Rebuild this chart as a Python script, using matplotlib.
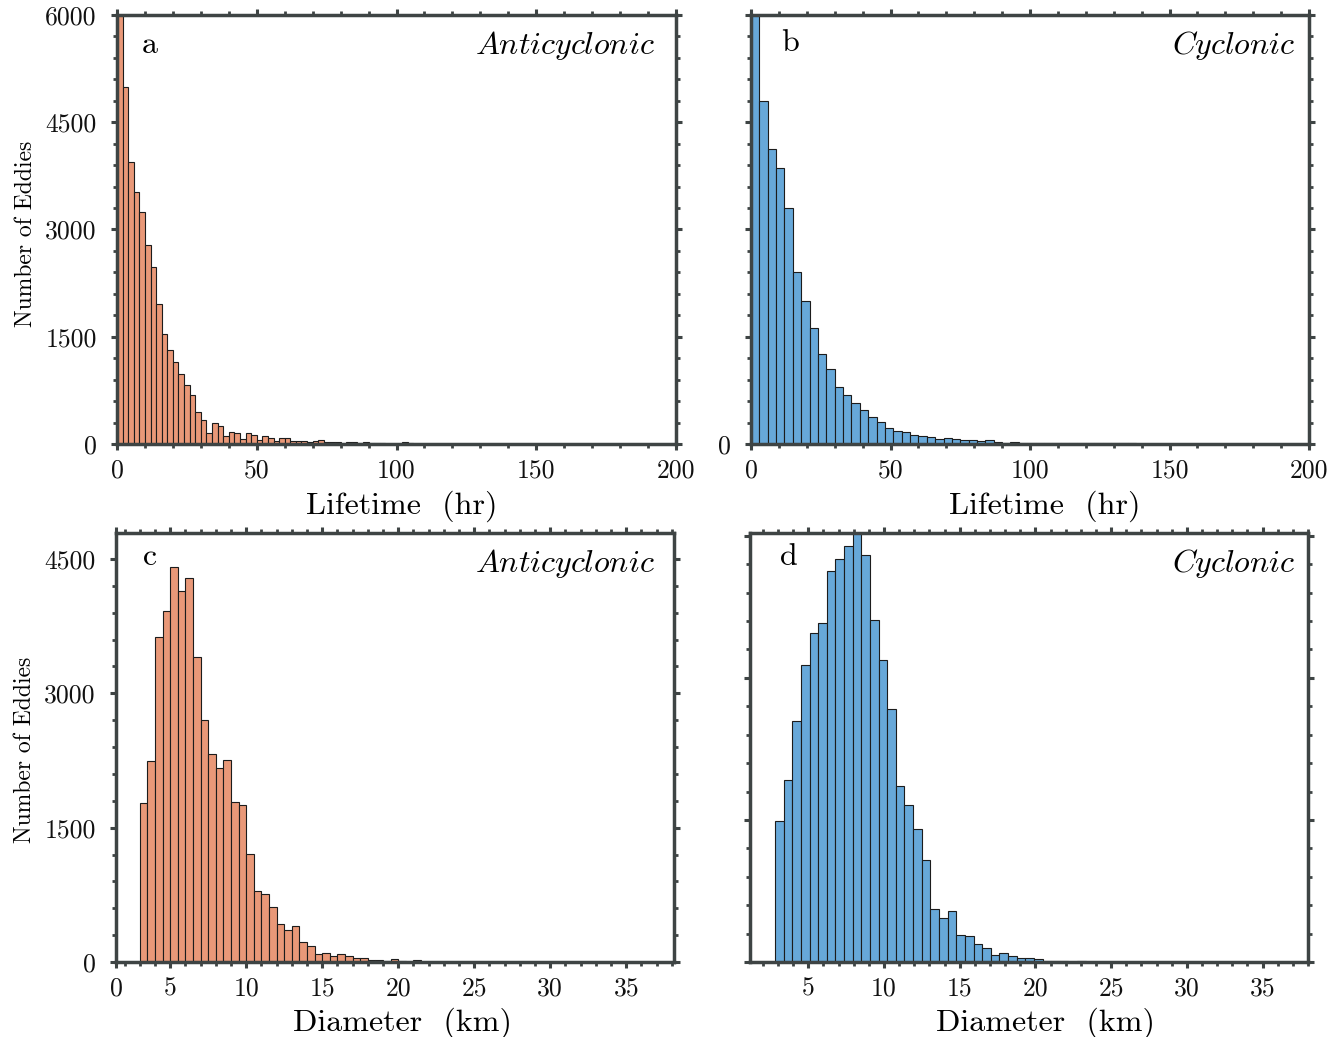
import numpy as np
import matplotlib
matplotlib.use("Agg")
import matplotlib.pyplot as plt
from matplotlib.ticker import MultipleLocator, FixedLocator, NullFormatter

plt.rcParams['font.family'] = 'cmr10'
plt.rcParams['mathtext.fontset'] = 'cm'
plt.rcParams['axes.unicode_minus'] = False

# ---------------- data ----------------
# (a) Anticyclonic lifetime, 2-hr bins starting at 0 hr
a_bin_start = 0.0
a_bin_width = 2.0
a_counts = [6800, 4990, 3950, 3520, 3240, 2790, 2470, 1960, 1540, 1315,
            1140, 980, 820, 680, 450, 340, 160, 300, 245, 115,
            165, 150, 75, 150, 130, 55, 112, 90, 35, 78,
            80, 42, 40, 35, 22, 45, 62, 24, 33, 22,
            6, 32, 22, 18, 22, 9, 9, 18, 5, 2,
            6, 28, 8, 6, 5, 4, 5, 4, 3, 4,
            3, 3, 2, 3, 2, 2, 3, 2, 2, 2,
            1, 2, 1, 2, 1, 1, 2, 1, 1, 1,
            1, 1, 1, 1, 1, 1, 1, 1, 1, 1,
            1, 1, 1, 1, 1, 1, 1, 1, 1, 1]

# (b) Cyclonic lifetime, 3-hr bins starting at 0 hr
b_bin_start = 0.0
b_bin_width = 3.0
b_counts = [6900, 4800, 4120, 3855, 3296, 2401, 1995, 1622, 1259, 1044,
            802, 685, 578, 471, 382, 308, 222, 185, 170, 128,
            112, 98, 63, 84, 70, 61, 61, 42, 51, 28,
            19, 28, 14, 19, 19, 9, 19, 15, 9, 9,
            14, 9, 14, 14, 10, 7, 6, 6, 5, 5,
            4, 4, 4, 3, 3, 3, 3, 2, 2, 2,
            2, 2, 2, 1, 1, 1, 1]

# (c) Anticyclonic diameter, 0.5-km bins starting at 3 km
c_bin_start = 3.0
c_bin_width = 0.5
c_counts = [1772, 2239, 3627, 3914, 4406, 4145, 4287, 3410, 2698, 2328,
            2171, 2250, 1791, 1757, 1201, 798, 754, 612, 425, 358,
            403, 228, 181, 90, 95, 70, 88, 65, 47, 44,
            21, 18, 11, 33, 6, 5, 17, 4, 3, 3,
            2, 2, 2, 2, 1, 1, 1, 1, 1, 1,
            1, 1, 1, 1, 1, 1, 1, 1, 1, 1,
            1, 1, 1, 1, 1, 1]

# (d) Cyclonic diameter, 0.57-km bins starting at 2.8 km
d_bin_start = 2.8
d_bin_width = 0.57
d_counts = [1489, 1919, 2549, 3137, 3472, 3584, 4134, 4257, 4391, 4600,
            4296, 3612, 3187, 2669, 1863, 1658, 1401, 1077, 560, 461,
            535, 290, 276, 192, 148, 72, 92, 68, 47, 46,
            32, 12, 8, 14, 2, 7, 2, 2, 1, 1,
            1, 1, 1, 1, 1, 1, 1, 1, 1, 1,
            1, 1, 1, 1, 1, 1, 1, 1, 1]

life_xticks = [0, 50, 100, 150, 200]
diam_xticks = [5, 10, 15, 20, 25, 30, 35]
a_yticks = [0, 1500, 3000, 4500, 6000]
c_yticks = [0, 1500, 3000, 4500]

orange = '#E99878'
blue = '#67A8D9'
edge = '#1c1c1c'
spine_col = '#3e4444'

fig = plt.figure(figsize=(13.4, 10.37), dpi=100)
W, H = 1340.0, 1037.0

def add_ax(l, r, t, b):
    return fig.add_axes([l / W, (H - b) / H, (r - l) / W, (b - t) / H])

ax_a = add_ax(117, 676, 15, 444)
ax_b = add_ax(751, 1309, 15, 444)
ax_c = add_ax(116, 674, 533, 962)
ax_d = add_ax(750, 1308, 533, 962)


def draw_hist(ax, start, width, counts, color):
    counts = np.asarray(counts, dtype=float)
    lefts = start + width * np.arange(len(counts))
    ax.bar(lefts, counts, width=width, align='edge', color=color,
           edgecolor=edge, linewidth=0.8, zorder=2)


def style(ax, xminor, yminor):
    for s in ax.spines.values():
        s.set_color(spine_col)
        s.set_linewidth(2.5)
        s.set_zorder(5)
    ax.xaxis.set_minor_locator(MultipleLocator(xminor))
    ax.yaxis.set_minor_locator(MultipleLocator(yminor))
    ax.tick_params(which='both', direction='out', top=True, right=True,
                   color=spine_col, labelsize=18.5, labelcolor='#111111')
    ax.tick_params(which='major', length=4.5, width=2.2)
    ax.tick_params(which='minor', length=3.2, width=2.0)
    ax.tick_params(axis='y', which='major', pad=10)
    ax.tick_params(axis='x', which='major', pad=6)


draw_hist(ax_a, a_bin_start, a_bin_width, a_counts, orange)
draw_hist(ax_b, b_bin_start, b_bin_width, b_counts, blue)
draw_hist(ax_c, c_bin_start, c_bin_width, c_counts, orange)
draw_hist(ax_d, d_bin_start, d_bin_width, d_counts, blue)

for ax in (ax_a, ax_b):
    ax.set_xlim(0, 200)
    ax.set_ylim(0, 6000)
    ax.xaxis.set_major_locator(FixedLocator(life_xticks))
    ax.yaxis.set_major_locator(FixedLocator(a_yticks))
    style(ax, 10, 300)
    ax.set_xlabel('Lifetime  (hr)', fontsize=23)

ax_a.set_yticklabels([str(v) for v in a_yticks])
ax_b.set_yticklabels(['0'] + [''] * (len(a_yticks) - 1))
ax_a.set_xticklabels([str(v) for v in life_xticks])
ax_b.set_xticklabels([str(v) for v in life_xticks])

ax_c.set_xlim(1.44, 38.14)
ax_c.set_ylim(0, 4790)
ax_c.xaxis.set_major_locator(FixedLocator([1.44] + diam_xticks))
ax_c.set_xticklabels(['0'] + [str(v) for v in diam_xticks])
ax_c.yaxis.set_major_locator(FixedLocator(c_yticks))
ax_c.set_yticklabels([str(v) for v in c_yticks])
style(ax_c, 1, 300)

ax_d.set_xlim(1.15, 38.0)
ax_d.set_ylim(0, 4530)
ax_d.xaxis.set_major_locator(FixedLocator(diam_xticks))
ax_d.set_xticklabels([str(v) for v in diam_xticks])
ax_d.yaxis.set_major_locator(FixedLocator(c_yticks))
ax_d.yaxis.set_major_formatter(NullFormatter())
style(ax_d, 1, 300)

for ax in (ax_c, ax_d):
    ax.set_xlabel('Diameter  (km)', fontsize=23)

for ax, yc in ((ax_a, 0.49), (ax_c, 0.495)):
    ax.set_ylabel('Number of Eddies', fontsize=17)
    ax.yaxis.set_label_coords(-0.143, yc)

ax_a.xaxis.set_label_coords(0.509, -0.108)
ax_b.xaxis.set_label_coords(0.527, -0.108)
ax_c.xaxis.set_label_coords(0.513, -0.106)
ax_d.xaxis.set_label_coords(0.529, -0.106)

letters = [(ax_a, 'a', 0.059, 0.93), (ax_b, 'b', 0.07, 0.935),
           (ax_c, 'c', 0.061, 0.944), (ax_d, 'd', 0.070, 0.944)]
for ax, s, x, y in letters:
    ax.text(x, y, s, transform=ax.transAxes, fontsize=23,
            ha='center', va='center', zorder=6)

titles = [(ax_a, 'Anticyclonic', 0.962, 0.93), (ax_b, 'Cyclonic', 0.975, 0.93),
          (ax_c, 'Anticyclonic', 0.966, 0.93), (ax_d, 'Cyclonic', 0.977, 0.93)]
for ax, s, x, y in titles:
    ax.text(x, y, r'$\mathit{' + s + '}$', transform=ax.transAxes,
            fontsize=23, ha='right', va='center', zorder=6)

fig.savefig('out.png', dpi=100, facecolor='white')
